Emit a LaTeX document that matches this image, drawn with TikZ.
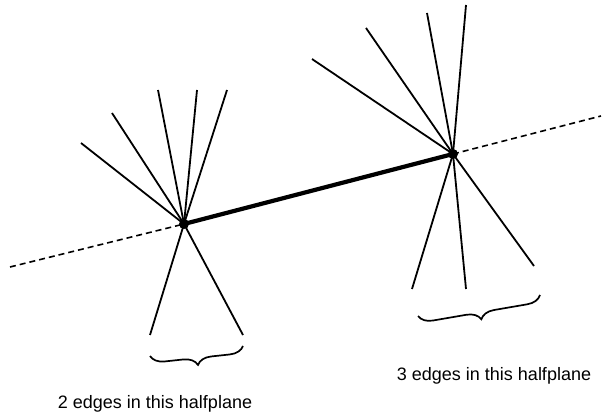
\documentclass[tikz,border=0pt]{standalone}
\usepackage{fontspec}
\setmainfont{Liberation Sans}
\usepackage{tikz}
\usetikzlibrary{decorations.pathreplacing}

\begin{document}
\begin{tikzpicture}[x=1pt, y=-1pt,
    edge/.style={line width=1.8pt},
    conn/.style={line width=4.2pt},
    split/.style={line width=1.6pt, dash pattern=on 6pt off 4pt},
    vtx/.style={circle, fill=black, inner sep=0pt, minimum size=10pt},
    brc/.style={decorate, decoration={brace, amplitude=14pt}, line width=1.7pt},
    lbl/.style={font=\fontsize{18}{20}\selectfont}
  ]
    \useasboundingbox (0,0) rectangle (602,419);

    % Vertices
    \node[vtx] (u) at (184,224) {};
    \node[vtx] (v) at (453,154) {};

    % Halfplane boundary
    \coordinate (hl) at (10,267);
    \coordinate (hr) at (601,116);
    \draw[split] (hl) -- (u.center);
    \draw[split] (v.center) -- (hr);

    % Edges at u
    \foreach \x/\y [count=\i] in {81/143, 112/113, 158/90, 197/90, 227/90, 150/335, 243/335} {
      \coordinate (u\i) at (\x,\y);
      \draw[edge] (u.center) -- (u\i);
    }

    % Edges at v
    \foreach \x/\y [count=\i] in {312/59, 366/28, 427/13, 466/5, 412/289, 466/289, 534/266} {
      \coordinate (v\i) at (\x,\y);
      \draw[edge] (v.center) -- (v\i);
    }

    % Connecting edge
    \draw[conn] (u.center) -- (v.center);

    % Braces
    \coordinate (bu1) at (150,356);
    \coordinate (bu2) at (243,346);
    \draw[brc] (bu2) -- (bu1);
    \coordinate (bv1) at (418,316);
    \coordinate (bv2) at (540,295);
    \draw[brc] (bv2) -- (bv1);

    % Labels
    \node[lbl] (two) at (155,404) {2 edges in this halfplane};
    \node[lbl] (three) at (494,376) {3 edges in this halfplane};

  \end{tikzpicture}
\end{document}
